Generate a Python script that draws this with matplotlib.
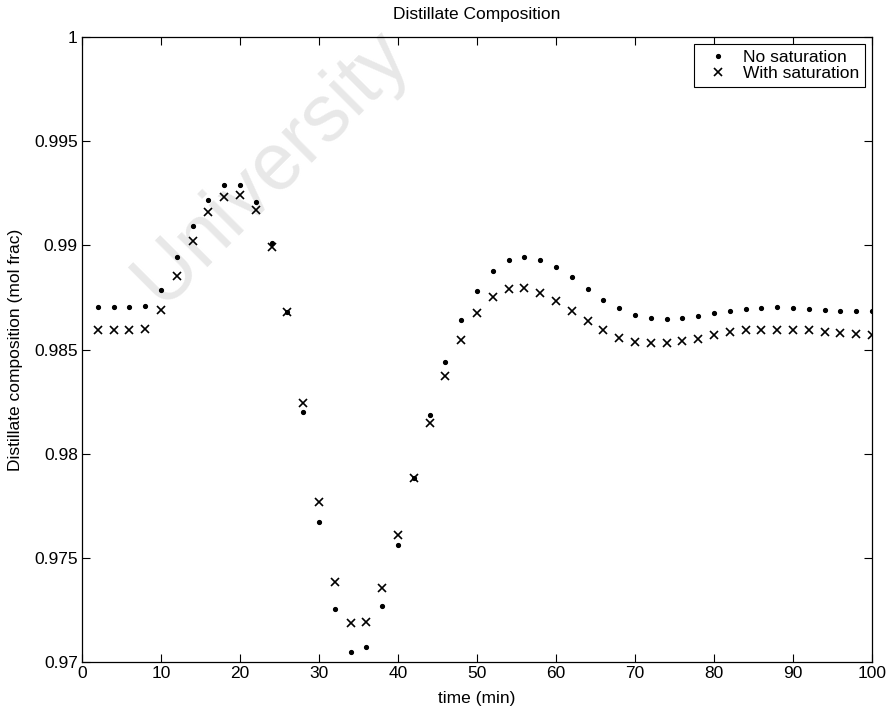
import numpy as np
import matplotlib
matplotlib.use("Agg")
import matplotlib.pyplot as plt

plt.rcParams['font.family'] = ['Liberation Sans', 'DejaVu Sans']

time_min = list(range(2, 101, 2))

no_saturation = [
    0.98703, 0.98703, 0.98703, 0.98707, 0.98788, 0.98942, 0.99095, 0.99220, 0.99288, 0.99288,
    0.99210, 0.99012, 0.98679, 0.98200, 0.97673, 0.97254, 0.97049, 0.97073, 0.97270, 0.97564,
    0.97885, 0.98184, 0.98440, 0.98640, 0.98783, 0.98876, 0.98931, 0.98946, 0.98931, 0.98895,
    0.98847, 0.98792, 0.98740, 0.98699, 0.98667, 0.98652, 0.98648, 0.98652, 0.98662, 0.98676,
    0.98687, 0.98696, 0.98700, 0.98702, 0.98699, 0.98696, 0.98691, 0.98687, 0.98686, 0.98686,
]

with_saturation = [
    0.98593, 0.98593, 0.98593, 0.98600, 0.98688, 0.98855, 0.99023, 0.99159, 0.99234, 0.99244,
    0.99170, 0.98991, 0.98679, 0.98243, 0.97768, 0.97382, 0.97188, 0.97193, 0.97356, 0.97609,
    0.97885, 0.98149, 0.98375, 0.98548, 0.98675, 0.98751, 0.98790, 0.98793, 0.98772, 0.98732,
    0.98683, 0.98635, 0.98592, 0.98557, 0.98536, 0.98531, 0.98531, 0.98540, 0.98550, 0.98571,
    0.98583, 0.98592, 0.98596, 0.98596, 0.98595, 0.98592, 0.98583, 0.98579, 0.98576, 0.98571,
]

x_ticks = [0, 10, 20, 30, 40, 50, 60, 70, 80, 90, 100]
y_ticks = [0.97, 0.975, 0.98, 0.985, 0.99, 0.995, 1.0]
y_tick_labels = ['0.97', '0.975', '0.98', '0.985', '0.99', '0.995', '1']

FS = 12.5

fig = plt.figure(figsize=(8.92, 7.16), dpi=100)
ax = fig.add_axes([82/892, 54/716, 790/892, 625/716])

# faint watermark, drawn beneath the data
ax.text(272/892, 1 - 167/716, 'University', transform=fig.transFigure,
        fontsize=58, color='#e8e8e8', rotation=45, ha='center', va='center',
        rotation_mode='anchor', zorder=0, clip_on=False)

ax.plot(time_min, no_saturation, linestyle='none', marker='.', markersize=5.5,
        color='black', label='No saturation', zorder=3)
ax.plot(time_min, with_saturation, linestyle='none', marker='x', markersize=5.5,
        markeredgewidth=1.2, color='black', label='With saturation', zorder=3)

ax.set_xlim(0, 100)
ax.set_ylim(0.97, 1.0)
ax.set_xticks(x_ticks)
ax.set_xticklabels([str(t) for t in x_ticks])
ax.set_yticks(y_ticks)
ax.set_yticklabels(y_tick_labels)
ax.tick_params(direction='in', top=True, right=True, labelsize=FS, length=5.5, width=0.8, pad=3)
for s in ax.spines.values():
    s.set_linewidth(0.9)

ax.set_xlabel('time (min)', fontsize=FS, labelpad=7)
ax.set_ylabel('Distillate composition (mol frac)', fontsize=FS, labelpad=8)
ax.set_title('Distillate Composition', fontsize=FS, pad=13)

leg = ax.legend(loc='upper right', fontsize=FS, fancybox=False, edgecolor='black',
                framealpha=1, borderpad=0.35, labelspacing=0.05, handletextpad=0.45,
                handlelength=2.0, borderaxespad=0.4)
leg.get_frame().set_linewidth(0.8)

fig.savefig('out.png', dpi=100)
